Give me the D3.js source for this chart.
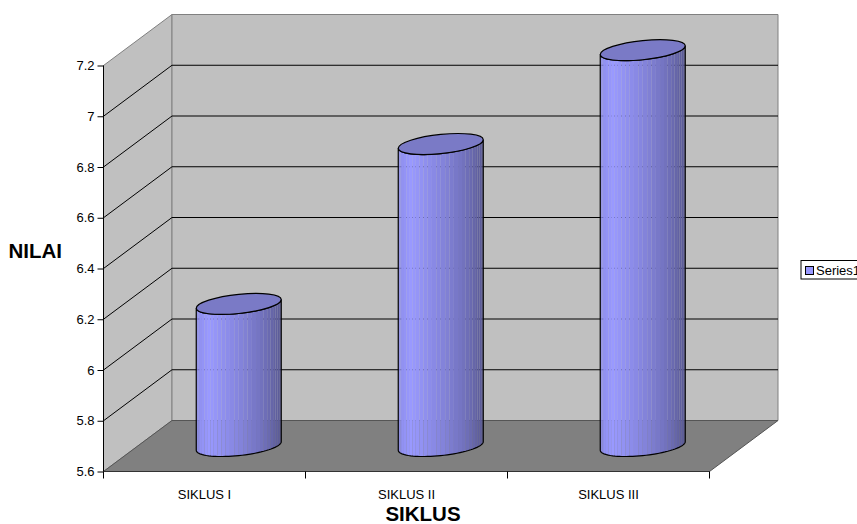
<!DOCTYPE html>
<html>
<head>
<meta charset="utf-8">
<script src="https://cdn.jsdelivr.net/npm/d3@7/dist/d3.min.js"></script>
<style>
html,body{margin:0;padding:0;background:#fff;overflow:hidden}
svg{display:block}
text{font-family:"Liberation Sans",Arial,sans-serif;fill:#000}
</style>
</head>
<body>
<svg id="chart" width="857" height="524"></svg>
<script>
// Chart content
const categories = ["SIKLUS I", "SIKLUS II", "SIKLUS III"];
const seriesName = "Series1";
const seriesValues = [6.16, 6.79, 7.16];
const yTickValues = [5.6, 5.8, 6, 6.2, 6.4, 6.6, 6.8, 7, 7.2];
const yTickLabels = ["5.6", "5.8", "6", "6.2", "6.4", "6.6", "6.8", "7", "7.2"];
const xTitle = "SIKLUS";
const yTitle = "NILAI";

// Frame of the pseudo-3D box
const frontLeft = 103.5, frontRight = 709.5, frontBottom = 471.5, frontTop = 65.5;
const depthX = 68.5, depthY = -51;

const svg = d3.select("#chart");
const defs = svg.append("defs");

const y = d3.scaleLinear().domain([5.6, 7.2]).range([frontBottom, frontTop]);
const x = d3.scaleBand().domain(categories).range([frontLeft, frontRight]);
const poly = pts => "M" + pts.map(p => p.join(",")).join("L") + "Z";

// Walls and floor
const backLeft = frontLeft + depthX, backRight = frontRight + depthX;
const yb = v => y(v) + depthY;
const box = svg.append("g");
box.append("path").attr("d", poly([[frontLeft, y(7.2)], [backLeft, yb(7.2)], [backLeft, yb(5.6)], [frontLeft, y(5.6)]]))
  .attr("fill", "#c0c0c0").attr("stroke", "#808080");
box.append("path").attr("d", poly([[backLeft, yb(7.2)], [backRight, yb(7.2)], [backRight, yb(5.6)], [backLeft, yb(5.6)]]))
  .attr("fill", "#c0c0c0").attr("stroke", "#808080");
box.append("path").attr("d", poly([[frontLeft, y(5.6)], [backLeft, yb(5.6)], [backRight, yb(5.6)], [frontRight, y(5.6)]]))
  .attr("fill", "#808080").attr("stroke", "#555");

// Gridlines run along the side wall and across the back wall
const gridValues = yTickValues.slice(1, -1);
const grid = svg.append("g").attr("stroke", "#000").attr("fill", "none");
grid.selectAll("path.side").data(gridValues).join("path")
  .attr("class", "side")
  .attr("d", v => `M${frontLeft},${y(v)}L${backLeft},${yb(v)}`);
grid.selectAll("line.back").data(gridValues).join("line")
  .attr("class", "back")
  .attr("x1", backLeft).attr("x2", backRight)
  .attr("y1", v => yb(v)).attr("y2", v => yb(v));

// Cylinders: the shading is a run of thin facets, so their seams let the wall show through
const shade = d3.scaleLinear()
  .domain([0, 0.15, 0.5, 0.8, 1])
  .range(["#8c8ceb", "#9999ff", "#8585dd", "#7070ba", "#595994"])
  .interpolate(d3.interpolateRgb);
const facetCount = 30;
const radiusX = 42.5, skewY = 4.3, radiusY = 9.6;
const baseY = y(5.6) + depthY / 2;
const rim = (cx, cy, t) => [cx + radiusX * Math.cos(t), cy - skewY * Math.cos(t) + radiusY * Math.sin(t)];

categories.forEach((c, i) => {
  const cx = x(c) + x.bandwidth() / 2 + depthX / 2;
  const topY = y(seriesValues[i]) + depthY / 2;
  const steps = d3.range(0, 41).map(k => k / 40 * Math.PI);
  const lower = steps.map(t => rim(cx, baseY, t));
  const upper = steps.slice().reverse().map(t => rim(cx, topY, t));
  const outline = "M" + lower.concat(upper).map(p => p.join(",")).join("L") + "Z";

  defs.append("clipPath").attr("id", "body" + i).append("path").attr("d", outline);
  const g = svg.append("g");
  const facets = g.append("g").attr("clip-path", `url(#body${i})`);
  d3.range(facetCount).forEach(k => {
    const a = Math.PI * (1 - k / facetCount), b = Math.PI * (1 - (k + 1) / facetCount);
    const x0 = cx + radiusX * Math.cos(a), x1 = cx + radiusX * Math.cos(b);
    facets.append("rect")
      .attr("x", x0).attr("width", x1 - x0)
      .attr("y", topY - 15).attr("height", baseY - topY + 30)
      .attr("fill", shade(((x0 + x1) / 2 - (cx - radiusX)) / (2 * radiusX)));
  });
  g.append("path").attr("d", outline).attr("fill", "none").attr("stroke", "#000").attr("stroke-width", 1.2);
  g.append("ellipse")
    .attr("rx", 1).attr("ry", 1)
    .attr("transform", `matrix(${radiusX},${-skewY},0,${radiusY},${cx},${topY})`)
    .attr("fill", "#7a7ac6").attr("stroke", "#000").attr("stroke-width", 1.2)
    .attr("vector-effect", "non-scaling-stroke");
});

// Value axis
const yAxis = svg.append("g").attr("transform", `translate(${frontLeft},0)`)
  .call(d3.axisLeft(y).tickValues(yTickValues).tickSize(6).tickPadding(3)
    .tickFormat((d, i) => yTickLabels[i]));
yAxis.select(".domain").attr("d", `M0,${frontTop}V${frontBottom}`).attr("stroke", "#000");
yAxis.selectAll("text").attr("font-size", 13).style("font-family", '"Liberation Sans",Arial,sans-serif');

// Category axis: labels sit mid-band, tick marks on the band edges
const xAxis = svg.append("g").attr("transform", `translate(0,${frontBottom})`)
  .call(d3.axisBottom(x).tickSize(0).tickPadding(18));
xAxis.select(".domain").attr("d", `M${frontLeft},0H${frontRight}`).attr("stroke", "#333");
xAxis.selectAll("text").attr("font-size", 13).style("font-family", '"Liberation Sans",Arial,sans-serif');
xAxis.selectAll("line.edge").data(d3.range(categories.length + 1)).join("line")
  .attr("class", "edge").attr("stroke", "#000")
  .attr("x1", i => frontLeft + i * x.bandwidth()).attr("x2", i => frontLeft + i * x.bandwidth())
  .attr("y1", 0).attr("y2", 7);

// Axis titles
svg.append("text").attr("x", 423).attr("y", 521).attr("text-anchor", "middle")
  .attr("font-size", 20.5).attr("font-weight", "bold").text(xTitle);
svg.append("text").attr("x", 8.5).attr("y", 258)
  .attr("font-size", 20.5).attr("font-weight", "bold").text(yTitle);

// Legend, running off the right edge of the page
const legend = svg.append("g");
legend.append("rect").attr("x", 801).attr("y", 260.5).attr("width", 80).attr("height", 18.5)
  .attr("fill", "#fff").attr("stroke", "#000");
legend.append("rect").attr("x", 805.5).attr("y", 266.5).attr("width", 8).attr("height", 8)
  .attr("fill", "#9999ff").attr("stroke", "#000");
legend.append("text").attr("x", 816).attr("y", 275).attr("font-size", 13).text(seriesName);
</script>
</body>
</html>
